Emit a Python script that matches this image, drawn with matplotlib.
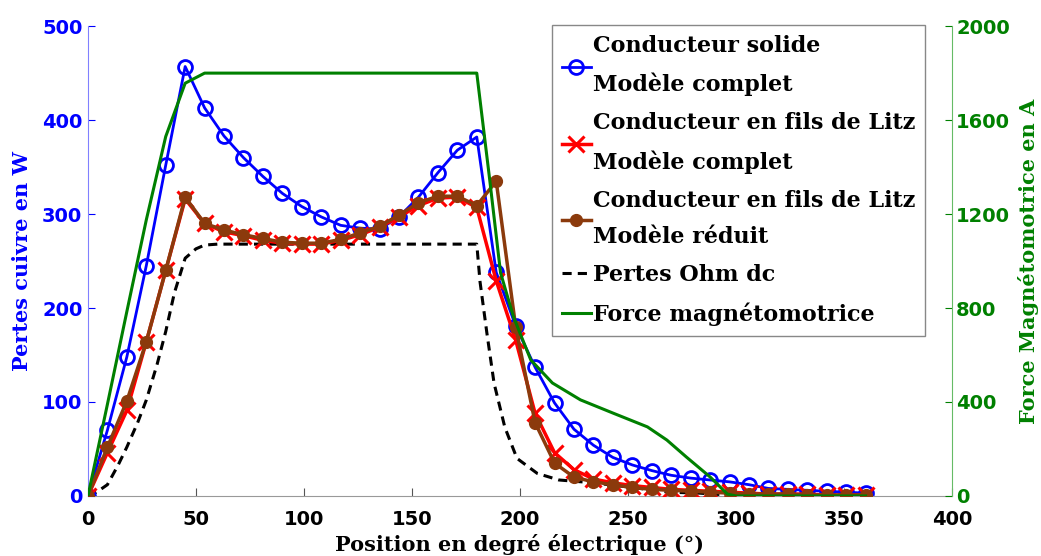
import numpy as np
import matplotlib
matplotlib.use("Agg")
import matplotlib.pyplot as plt

# ---------------------------------------------
#  data
# ---------------------------------------------
position = np.arange(0, 361, 9)  # degrés électriques

pertes_solide = [0, 70, 148, 245, 352, 457, 413, 383, 360, 340, 322, 308, 297, 288, 285, 284,
                 297, 318, 344, 368, 382, 238, 181, 137, 99, 71, 54, 41, 33, 27,
                 22, 19, 17, 15, 12, 8, 7, 6, 5, 4, 3]
pertes_litz_complet = [0, 46, 91, 164, 240, 316, 290, 281, 277, 272, 269, 268, 268, 272, 278, 286,
                       297, 309, 317, 318, 307, 229, 166, 88, 46, 28, 18, 14, 11, 9,
                       7, 6, 5, 4, 3, 2, 2, 2, 1, 1, 1]
pertes_litz_reduit = [0, 52, 101, 164, 240, 318, 290, 283, 278, 274, 270, 269, 269, 273, 280, 287,
                      299, 312, 319, 319, 309, 335, 180, 78, 35, 20, 15, 12, 9, 7,
                      6, 5, 4, 3, 2, 2, 2, 1, 1, 1, 1]

position_dc = [0, 4, 9, 14, 18, 23, 27, 32, 36, 40, 45, 50, 54, 60, 180, 181.5, 184.7, 188,
               193, 198.6, 208, 218, 234, 252, 269, 283, 296, 300, 360]
pertes_dc = [0, 4, 12, 33, 52, 78, 102, 140, 175, 216, 253, 263, 267, 268, 268, 228, 173, 120,
             73, 40, 24, 17, 14, 9, 4, 3, 1, 0, 0]

position_fmm = [0, 9, 18, 27, 36, 45, 54, 180, 186, 191, 197, 205, 215, 228, 243, 259,
                268, 277, 288, 296, 300, 360]
fmm = [0, 390, 785, 1175, 1530, 1757, 1800, 1800, 1345, 950, 762, 579, 481, 409, 353, 294,
       238, 166, 81, 8, 0, 0]

labels = ["Conducteur solide\nModèle complet",
          "Conducteur en fils de Litz\nModèle complet",
          "Conducteur en fils de Litz\nModèle réduit",
          "Pertes Ohm dc",
          "Force magnétomotrice"]

blue = '#0000ff'
red = '#ff0000'
brown = '#8b3a0c'
green = '#008000'

plt.rcParams['font.family'] = 'DejaVu Sans'
plt.rcParams['font.weight'] = 'bold'

fig = plt.figure(figsize=(10.41, 5.56), dpi=100)
ax = fig.add_axes([0.0845, 0.108, 0.83, 0.845])

l1, = ax.plot(position, pertes_solide, color=blue, lw=2, marker='o', ms=10,
              mfc='none', mew=2, zorder=2)
l2, = ax.plot(position, pertes_litz_complet, color=red, lw=2.5, marker='x', ms=12,
              mew=2.2, zorder=3)
l3, = ax.plot(position, pertes_litz_reduit, color=brown, lw=2.5, marker='o', ms=8.5,
              zorder=4)
l4, = ax.plot(position_dc, pertes_dc, color='black', lw=2.2, ls=(0, (3, 2)), zorder=1)

ax.set_xlim(0, 400)
ax.set_ylim(0, 500)
ax.set_xticks(np.arange(0, 401, 50))
ax.set_yticks(np.arange(0, 501, 100))
ax.tick_params(axis='y', colors=blue, direction='in', length=5, labelsize=14, pad=4)
ax.tick_params(axis='x', colors='#555555', labelcolor='black', direction='in', length=6,
               labelsize=14, pad=10)
for t in ax.get_xticklabels() + ax.get_yticklabels():
    t.set_fontweight('bold')
ax.spines['top'].set_visible(False)
ax.spines['right'].set_visible(False)
ax.spines['left'].set_color('#8080ff')
ax.spines['bottom'].set_color('#999999')
ax.set_xlabel("Position en degré électrique (°)", family='DejaVu Serif', fontsize=15,
              fontweight='bold', labelpad=4)
ax.set_ylabel("Pertes cuivre en W", family='DejaVu Serif', fontsize=15, fontweight='bold',
              color=blue, labelpad=7)

ax2 = ax.twinx()
l5, = ax2.plot(position_fmm, fmm, color=green, lw=2.2)
ax2.set_ylim(0, 2000)
ax2.set_yticks(np.arange(0, 2001, 400))
ax2.tick_params(axis='y', colors=green, direction='in', length=5, labelsize=14, pad=3)
for t in ax2.get_yticklabels():
    t.set_fontweight('bold')
ax2.spines['top'].set_visible(False)
ax2.spines['left'].set_visible(False)
ax2.spines['bottom'].set_visible(False)
ax2.spines['right'].set_color('#66bb66')
ax2.set_ylabel("Force Magnétomotrice en A", family='DejaVu Serif', fontsize=15,
               fontweight='bold', color=green, labelpad=6)

leg = ax2.legend([l1, l2, l3, l4, l5], labels, loc='upper right',
                 bbox_to_anchor=(0.969, 1.002), borderaxespad=0, handlelength=1.3,
                 handletextpad=0.1, borderpad=0.45, labelspacing=0.72, fancybox=False,
                 framealpha=1, edgecolor='#888888',
                 prop={'family': 'DejaVu Serif', 'weight': 'bold', 'size': 16})
leg.get_frame().set_linewidth(1)
for t in leg.get_texts():
    t.set_linespacing(1.85)

fig.savefig("out.png", dpi=100)
